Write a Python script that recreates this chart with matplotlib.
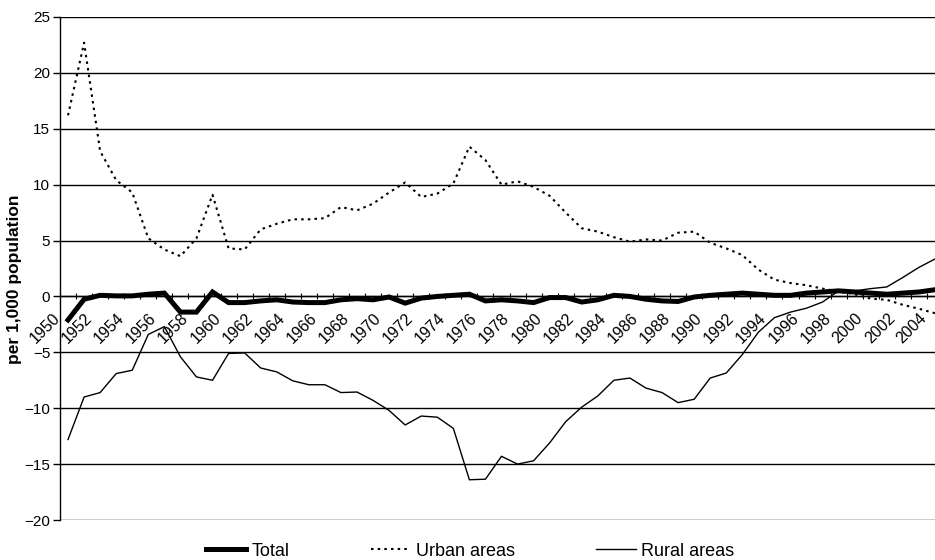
import matplotlib
matplotlib.use("Agg")
import matplotlib.pyplot as plt
import matplotlib.transforms as mtransforms

plt.rcParams['font.family'] = ['Liberation Sans', 'DejaVu Sans']

years = list(range(1950, 2005))

total = [-2.1, -0.25, 0.1, 0.05, 0.05, 0.2, 0.3, -1.4, -1.4, 0.4,
         -0.55, -0.55, -0.4, -0.3, -0.5, -0.55, -0.55, -0.3, -0.2, -0.3,
         -0.05, -0.6, -0.15, 0.0, 0.1, 0.2, -0.4, -0.3, -0.4, -0.55,
         -0.1, -0.1, -0.5, -0.3, 0.1, 0.0, -0.25, -0.4, -0.45, -0.05,
         0.1, 0.2, 0.3, 0.2, 0.1, 0.1, 0.3, 0.4, 0.5, 0.4,
         0.3, 0.2, 0.3, 0.4, 0.6]

urban = [16.2, 22.7, 13.0, 10.4, 9.3, 5.2, 4.2, 3.6, 5.2, 9.1,
         4.3, 4.2, 6.0, 6.5, 6.9, 6.9, 7.0, 8.0, 7.7, 8.3,
         9.3, 10.2, 8.9, 9.2, 10.1, 13.4, 12.2, 10.0, 10.3, 9.8,
         9.0, 7.5, 6.1, 5.8, 5.3, 4.9, 5.1, 5.0, 5.7, 5.8,
         4.8, 4.3, 3.7, 2.4, 1.5, 1.2, 1.0, 0.7, 0.45, 0.2,
         -0.2, -0.3, -0.75, -1.1, -1.5]

rural = [-12.8, -9.0, -8.6, -6.9, -6.6, -3.4, -2.7, -5.4, -7.2, -7.5,
         -5.1, -5.05, -6.4, -6.75, -7.55, -7.9, -7.9, -8.6, -8.55, -9.3,
         -10.2, -11.5, -10.7, -10.8, -11.8, -16.4, -16.35, -14.3, -15.0, -14.7,
         -13.1, -11.2, -9.9, -8.9, -7.5, -7.3, -8.2, -8.6, -9.5, -9.2,
         -7.3, -6.85, -5.2, -3.2, -1.9, -1.4, -1.05, -0.5, 0.5, 0.5,
         0.7, 0.85, 1.7, 2.6, 3.35]

year_labels = [str(y) for y in years[::2]]
y_ticks = [25, 20, 15, 10, 5, 0, -5, -10, -15, -20]

fig = plt.figure(figsize=(9.35, 5.6), dpi=100)
# plot area runs past the right edge, as in the cropped original
ax = fig.add_axes([60 / 935, 40 / 560, 883 / 935, 503 / 560])

x = list(range(len(years)))
ax.plot(x, total, color="black", lw=3.6, solid_joinstyle="miter", zorder=4, label="Total")
ax.plot(x, urban, color="black", lw=1.5, linestyle=(0, (1.2, 2.0)), zorder=3, label="Urban areas")
ax.plot(x, rural, color="black", lw=1.0, zorder=3, label="Rural areas")

ax.set_xlim(-0.5, len(years) - 0.5)
ax.set_ylim(-20, 25)
ax.set_yticks(y_ticks)
ax.yaxis.grid(True, color="black", lw=1.0)
ax.set_axisbelow(True)

ax.spines["top"].set_visible(False)
ax.spines["right"].set_visible(False)
ax.spines["bottom"].set_position(("data", 0))
ax.spines["left"].set_linewidth(1.0)
ax.spines["bottom"].set_linewidth(1.0)

ax.set_xticks(x[::2])
ax.set_xticklabels(year_labels, rotation=45, ha="right", fontsize=11.5)
ax.set_xticks([i - 0.5 for i in range(len(years) + 1)], minor=True)
ax.tick_params(axis="x", which="major", length=0, pad=10)
ax.tick_params(axis="x", which="minor", direction="inout", length=5, width=0.8)
ax.tick_params(axis="y", direction="out", length=5, width=1.0, pad=2, labelsize=11)

shift = mtransforms.ScaledTranslation(-5 / 100, 0, fig.dpi_scale_trans)
for lab in ax.get_xticklabels():
    lab.set_transform(lab.get_transform() + shift)

fig.text(15 / 935, 1 - 279 / 560, "per 1,000 population", rotation=90,
         ha="center", va="center", fontsize=12.5, fontweight="bold")

fig.legend(loc="center", bbox_to_anchor=(0.503, 0.016), ncol=3, frameon=False,
           fontsize=13, handlelength=2.2, handletextpad=0.3, columnspacing=4.5)

fig.savefig("out.png", dpi=100)
